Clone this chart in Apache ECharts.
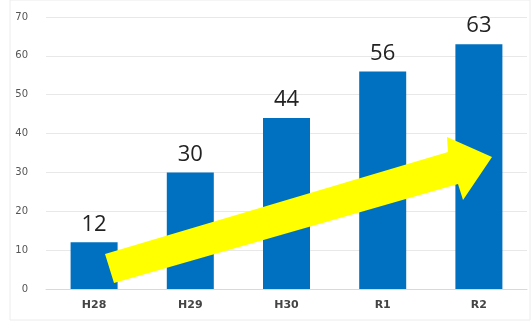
<!DOCTYPE html>
<html><head><meta charset="utf-8">
<script src="https://cdn.jsdelivr.net/npm/echarts@6/dist/echarts.min.js"></script>
<style>html,body{margin:0;padding:0;background:#fff}#c{width:531px;height:321px}</style>
</head><body><div id="c"></div>
<script>
const categories = ['H28', 'H29', 'H30', 'R1', 'R2'];
const values = [12, 30, 44, 56, 63];
const yTicks = [0, 10, 20, 30, 40, 50, 60, 70];

const chart = echarts.init(document.getElementById('c'));
chart.setOption({
  animation: false,
  backgroundColor: '#fff',
  grid: { left: 46, right: 4, top: 17, bottom: 32 },
  xAxis: {
    type: 'category', data: categories,
    axisLine: { lineStyle: { color: '#d9d9d9' } },
    axisTick: { show: false },
    axisLabel: { color: '#444', fontSize: 11, fontWeight: 'bold', margin: 11, fontFamily: 'DejaVu Sans' }
  },
  yAxis: {
    type: 'value', min: yTicks[0], max: yTicks[yTicks.length - 1], interval: 10,
    axisLine: { show: false }, axisTick: { show: false },
    axisLabel: { color: '#555', fontSize: 10, margin: 18, fontFamily: 'DejaVu Sans' },
    splitLine: { lineStyle: { color: '#e8e8e8' } }
  },
  series: [{
    type: 'bar', data: values, barWidth: 47,
    itemStyle: { color: '#0070C0' },
    label: { show: true, position: 'top', distance: 7, color: '#222', fontSize: 22, fontFamily: 'Open Sans' }
  }],
  graphic: [
    { type: 'rect', shape: { x: 10, y: 0, width: 520, height: 320 }, style: { fill: 'none', stroke: '#ececec', lineWidth: 1 }, silent: true },
    { type: 'polygon', shape: { points: [[105, 254], [448, 152], [447, 137], [492, 157], [463, 200], [458, 184], [114, 283]] }, style: { fill: '#FFFF00' }, z: 100 }
  ]
});
</script></body></html>
